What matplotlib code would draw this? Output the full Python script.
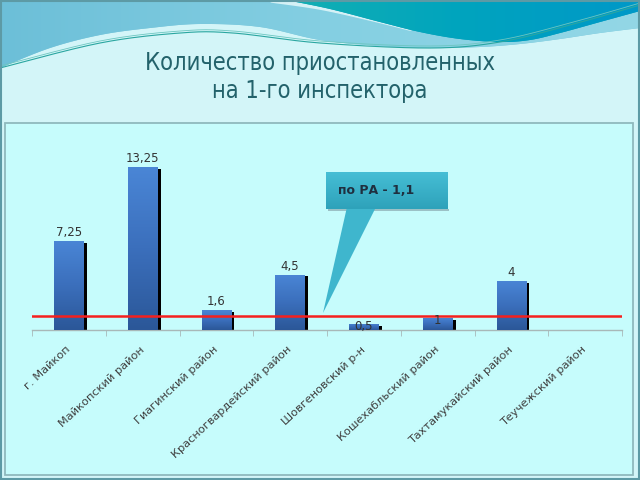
import numpy as np
import matplotlib
matplotlib.use('Agg')
import matplotlib.pyplot as plt
from matplotlib.patches import Polygon, Rectangle
from matplotlib.colors import LinearSegmentedColormap
import matplotlib.transforms as mtransforms
from matplotlib import font_manager

# ---------------- data ----------------
categories = ["г. Майкоп", "Майкопский район", "Гиагинский район",
              "Красногвардейский район", "Шовгеновский р-н",
              "Кошехабльский район", "Тахтамукайский район", "Теучежский район"]
values = [7.25, 13.25, 1.6, 4.5, 0.5, 1, 4, 0]
value_labels = ["7,25", "13,25", "1,6", "4,5", "0,5", "1", "4", ""]
ra_level = 1.1
callout_text = "по РА - 1,1"
title_lines = ["Количество приостановленных", "на 1-го инспектора"]

W, H = 640, 480
fig = plt.figure(figsize=(6.4, 4.8), dpi=100)
fig.patch.set_facecolor('#d3f5f8')

# pick a narrow font for the title if one is installed
names = {f.name for f in font_manager.fontManager.ttflist}
cond = [f for f in font_manager.fontManager.ttflist
        if f.name == 'DejaVu Sans' and 'condensed' in str(f.stretch).lower()
        and f.weight in (400, 'normal') and f.style == 'normal']
if 'Liberation Sans Narrow' in names:
    title_kw = dict(family=['Liberation Sans Narrow', 'DejaVu Sans'], fontsize=19)
elif cond:
    title_kw = dict(fontproperties=font_manager.FontProperties(fname=cond[0].fname, size=17))
else:
    title_kw = dict(family=['Liberation Sans', 'DejaVu Sans'], fontsize=15.5)


def smooth(pts, n=24):
    p = np.asarray(pts, float)
    p = np.vstack([p[0], p, p[-1]])
    out = []
    for i in range(1, len(p) - 2):
        p0, p1, p2, p3 = p[i - 1], p[i], p[i + 1], p[i + 2]
        t = np.linspace(0, 1, n, endpoint=False)[:, None]
        seg = 0.5 * ((2 * p1) + (-p0 + p2) * t + (2 * p0 - 5 * p1 + 4 * p2 - p3) * t ** 2
                     + (-p0 + 3 * p1 - 3 * p2 + p3) * t ** 3)
        out.append(seg)
    out.append(p[-2][None, :])
    return np.vstack(out)


# ---------------- background / decoration (pixel coords) ----------------
bg = fig.add_axes([0, 0, 1, 1], zorder=0)
bg.set_xlim(0, W)
bg.set_ylim(H, 0)
bg.axis('off')

low = smooth([(640, 28), (600, 33), (560, 39), (520, 44), (480, 47), (430, 48),
              (380, 46), (320, 40), (260, 27), (200, 24), (150, 28), (100, 35),
              (50, 48), (0, 68)])
light_pts = np.vstack([[(0, 0), (640, 0)], low])
light = Polygon(light_pts, closed=True, fc='#7ac7dc', ec='none')
bg.add_patch(light)
gimg = bg.imshow(np.linspace(0, 1, 256)[None, :], extent=[0, 640, 75, 0],
                 cmap=LinearSegmentedColormap.from_list('l', ['#6cbfd8', '#84cfe2', '#93d7e6']),
                 aspect='auto', zorder=1)
gimg.set_clip_path(light)

ws = smooth([(272, 0), (320, 7), (370, 18), (410, 28)])
bg.plot(ws[:, 0], ws[:, 1], color='#e4f8fa', lw=4, alpha=0.85,
        solid_capstyle='round', zorder=2)

dark_b = smooth([(286, 0), (330, 9), (380, 22), (420, 32), (460, 39), (500, 42),
                 (530, 40), (560, 33), (600, 22), (640, 11)])
dark_pts = np.vstack([dark_b, [(640, 0)]])
dark = Polygon(dark_pts, closed=True, fc='#00a0bb', ec='none', zorder=3)
bg.add_patch(dark)
dimg = bg.imshow(np.linspace(0, 1, 256)[None, :], extent=[280, 640, 50, 0],
                 cmap=LinearSegmentedColormap.from_list('d', ['#14b0b2', '#00a4be', '#0098c8']),
                 aspect='auto', zorder=3)
dimg.set_clip_path(dark)

tl = smooth([(0, 68), (100, 43), (180, 33), (233, 33), (320, 43), (430, 48),
             (500, 42), (570, 25), (640, 5)])
bg.plot(tl[:, 0], tl[:, 1], color='#2aa6a0', lw=0.8, zorder=4)
bg.plot(tl[:, 0], tl[:, 1] - 2, color='#6cc6c0', lw=0.6, zorder=4)

bg.add_patch(Rectangle((5, 123), 628, 352, fc='#c6fcfc', ec='#8fb9bd', lw=1.3, zorder=5))
bg.add_patch(Rectangle((0.7, 0.7), 638.6, 478.6, fc='none', ec='#5d9aa5', lw=1.5, zorder=6))

bg.text(320, 63, title_lines[0], ha='center', va='center',
        color='#23626b', zorder=7, **title_kw)
bg.text(320, 91, title_lines[1], ha='center', va='center',
        color='#23626b', zorder=7, **title_kw)

# ---------------- chart ----------------
ax = fig.add_axes([32 / W, 1 - 330 / H, 590 / W, 184.5 / H], zorder=1)
ax.patch.set_alpha(0)
x = np.arange(len(values))
vals = np.array(values, float)

shadow_h = np.where(vals > 0, np.maximum(vals - 0.15, 0), 0)
ax.bar(x + 0.045, shadow_h, width=0.4, color='black', zorder=2)
bars = ax.bar(x, vals, width=0.4, color='#3a6fbf', zorder=3)

bar_cmap = LinearSegmentedColormap.from_list('b', ['#2b5798', '#3b6fbc', '#4a86d6'])
for b in bars:
    if b.get_height() <= 0:
        continue
    x0 = b.get_x()
    im = ax.imshow(np.linspace(0, 1, 256)[:, None], origin='lower',
                   extent=[x0, x0 + b.get_width(), 0, b.get_height()],
                   cmap=bar_cmap, aspect='auto', zorder=3.5)
    im.set_clip_path(b)

ax.axhline(ra_level, color='#f5201e', lw=1.8, zorder=5)

for i, (v, lbl) in enumerate(zip(vals, value_labels)):
    if not lbl:
        continue
    if v >= 1.5:
        ax.annotate(lbl, (i, v), xytext=(0, 1.5), textcoords='offset points',
                    ha='center', va='bottom', fontsize=8.5, color='#333333', zorder=6)
    else:
        ax.annotate(lbl, (i, v), xytext=(0, -2), textcoords='offset points',
                    ha='center', va='center', fontsize=8.5, color='#333333', zorder=6)

ax.set_xlim(-0.5, len(values) - 0.5)
ax.set_ylim(0, 15)
ax.set_xticks(x)
ax.set_xticklabels(categories, rotation=43, ha='right', va='center',
                   rotation_mode='anchor', fontsize=8.2, color='#404040')
offset = mtransforms.ScaledTranslation(-6 / 100, 0, fig.dpi_scale_trans)
for t in ax.get_xticklabels():
    t.set_transform(t.get_transform() + offset)
ax.set_xticks(np.arange(-0.5, len(values), 1), minor=True)
ax.tick_params(axis='x', which='major', length=0, pad=13)
ax.tick_params(axis='x', which='minor', length=4, color='#a8b8b8', direction='out')
ax.set_yticks([])
for s in ['top', 'right', 'left']:
    ax.spines[s].set_visible(False)
ax.spines['bottom'].set_color('#a8b8b8')
ax.spines['bottom'].set_linewidth(1)

# ---------------- callout ----------------
ov = fig.add_axes([0, 0, 1, 1], zorder=3)
ov.set_xlim(0, W)
ov.set_ylim(H, 0)
ov.axis('off')
ov.patch.set_alpha(0)
ov.add_patch(Rectangle((328, 208.5), 121, 2, fc='#8aa8b0', ec='none', alpha=0.7, zorder=1))
ov.add_patch(Polygon([(347, 207), (376, 207), (323, 313)], closed=True,
                     fc='#3fb6cd', ec='none', zorder=2))
box = Rectangle((326, 172), 122, 37, fc='#3ab2ca', ec='none', zorder=3)
ov.add_patch(box)
bimg = ov.imshow(np.linspace(0, 1, 64)[:, None], extent=[326, 448, 209, 172],
                 cmap=LinearSegmentedColormap.from_list('c', ['#46bed5', '#2ea2ba']),
                 aspect='auto', zorder=3)
bimg.set_clip_path(box)
ov.text(338, 190, callout_text, ha='left', va='center', fontsize=9,
        fontweight='bold', color='#1f2f3f', zorder=4)
ov.set_xlim(0, W)
ov.set_ylim(H, 0)
bg.set_xlim(0, W)
bg.set_ylim(H, 0)

fig.savefig('out.png', dpi=100, facecolor=fig.get_facecolor())
